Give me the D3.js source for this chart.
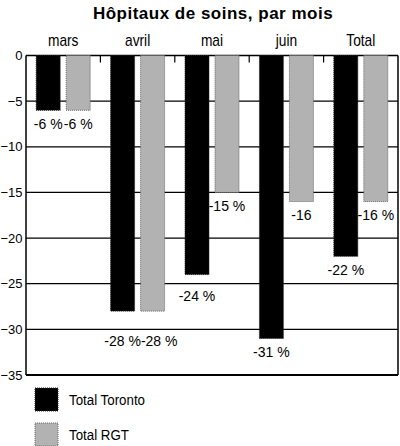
<!DOCTYPE html>
<html>
<head>
<meta charset="utf-8">
<script src="https://cdn.jsdelivr.net/npm/d3@7"></script>
<style>
	body { margin: 0; background: #fff; }
	svg { display: block; font-family: "Liberation Sans", Arial, sans-serif; }
</style>
</head>
<body>
<svg id="chart" width="400" height="446"></svg>
<script>
// données
var categories = ["mars", "avril", "mai", "juin", "Total"];
var series = ["Total Toronto", "Total RGT"];
var toronto = [-6, -28, -24, -31, -22];
var rgt = [-6, -28, -15, -16, -16];
var valueLabels = [
	["-6 %", "-28 %", "-24 %", "-31 %", "-22 %"],
	["-6 %", "-28 %", "-15 %", "-16", "-16 %"]
];
var yTicks = [0, -5, -10, -15, -20, -25, -30, -35];
var colors = ["#000000", "#b2b2b2"];

var svg = d3.select("#chart");
var plotLeft = 26, plotRight = 398, plotTop = 55.5, plotBottom = 375;
var narrow = "scale(0.86,1)"; // police étroite simulée

var x = d3.scaleBand().domain(categories).range([plotLeft, plotRight]);
var x1 = d3.scaleBand().domain(series).range([0, x.bandwidth()])
	.paddingInner(0.2).paddingOuter(0.34);
var y = d3.scaleLinear().domain([0, -35]).range([plotTop, plotBottom]);

// titre
svg.append("text")
	.attr("x", 213)
	.attr("y", 19)
	.attr("text-anchor", "middle")
	.style("font-size", "17px")
	.style("font-weight", "bold")
	.style("letter-spacing", "0.5px")
	.text("Hôpitaux de soins, par mois");

// lignes horizontales
svg.append("g").selectAll("line")
	.data(yTicks)
	.enter().append("line")
	.attr("x1", plotLeft).attr("x2", plotRight)
	.attr("y1", d => y(d)).attr("y2", d => y(d))
	.attr("stroke", "#000")
	.attr("stroke-width", d => d === -35 ? 2 : 1.3);

// cadre
svg.append("line").attr("x1", plotLeft).attr("x2", plotLeft).attr("y1", plotTop).attr("y2", plotBottom)
	.attr("stroke", "#000").attr("stroke-width", 1.5);
svg.append("line").attr("x1", plotRight).attr("x2", plotRight).attr("y1", plotTop).attr("y2", plotBottom)
	.attr("stroke", "#000").attr("stroke-width", 1.5);

// axe Y
var yAxis = svg.append("g")
	.attr("transform", `translate(${plotLeft},0)`)
	.call(d3.axisLeft(y).tickValues(yTicks).tickSize(0).tickPadding(3.5));
yAxis.select(".domain").remove();
yAxis.selectAll("text")
	.style("font-size", "13px")
	.style("font-family", "Liberation Sans, Arial, sans-serif")
	.style("fill", "#000");

// axe X (en haut)
var xAxis = svg.append("g")
	.attr("transform", `translate(0,${plotTop - 10})`)
	.call(d3.axisTop(x).tickSize(0).tickPadding(0));
xAxis.select(".domain").remove();
xAxis.selectAll("text")
	.attr("transform", narrow)
	.attr("dy", "0")
	.style("font-size", "16px")
	.style("font-family", "Liberation Sans, Arial, sans-serif")
	.style("fill", "#000");

// petites marques entre les catégories
svg.append("g").selectAll("line")
	.data(categories.slice(1))
	.enter().append("line")
	.attr("x1", d => x(d)).attr("x2", d => x(d))
	.attr("y1", plotTop).attr("y2", plotTop + 7)
	.attr("stroke", "#000").attr("stroke-width", 1.2);

// barres
var rows = categories.map((c, i) => ({ cat: c, vals: [toronto[i], rgt[i]], labels: [valueLabels[0][i], valueLabels[1][i]] }));

var groups = svg.selectAll(".grp")
	.data(rows)
	.enter().append("g")
	.attr("class", "grp")
	.attr("transform", d => `translate(${x(d.cat)},0)`);

groups.selectAll("rect")
	.data(d => d.vals.map((v, j) => ({ s: series[j], v: v, j: j, label: d.labels[j] })))
	.enter().append("rect")
	.attr("x", d => x1(d.s))
	.attr("y", y(0))
	.attr("width", x1.bandwidth())
	.attr("height", d => y(d.v) - y(0))
	.attr("fill", d => colors[d.j])
	.attr("stroke", d => d.j === 0 ? "#222" : "#666")
	.attr("stroke-width", 1)
	.attr("stroke-dasharray", "1,1");

// étiquettes de valeur : sous la barre, décalées sous la ligne si chevauchement
function labelY(v) {
	var end = y(v);
	var cy = end + 14;
	yTicks.forEach(t => {
		var gy = y(t);
		if (gy > end + 1 && Math.abs(gy - cy) < 7) cy = gy + 12;
	});
	return cy;
}

groups.each(function(d) {
	var g = d3.select(this);
	var prev = null;
	d.vals.forEach((v, j) => {
		var cx = x1(series[j]) + x1.bandwidth() / 2;
		var cy = labelY(v);
		var t = g.append("text")
			.attr("class", "lbl")
			.attr("y", cy)
			.attr("dy", "0.35em")
			.attr("text-anchor", "middle")
			.style("font-size", "14px")
			.text(d.labels[j]);
		var w = t.node().getComputedTextLength();
		// éviter que deux étiquettes se chevauchent
		if (prev && Math.abs(prev.cy - cy) < 12 && cx - w / 2 < prev.right) {
			cx = prev.right + w / 2;
		}
		t.attr("x", cx);
		prev = { cy: cy, right: cx + w / 2 };
	});
});

// légende
var legend = svg.selectAll(".leg")
	.data(series)
	.enter().append("g")
	.attr("class", "leg")
	.attr("transform", (d, i) => `translate(35,${388 + i * 35})`);

legend.append("rect")
	.attr("width", 23).attr("height", 23)
	.attr("fill", (d, i) => colors[i])
	.attr("stroke", (d, i) => i === 0 ? "#222" : "#666")
	.attr("stroke-dasharray", "1,1");

legend.append("text")
	.attr("transform", "translate(34,12) " + narrow)
	.attr("dy", "0.35em")
	.style("font-size", "15.5px")
	.text(d => d);
</script>
</body>
</html>
